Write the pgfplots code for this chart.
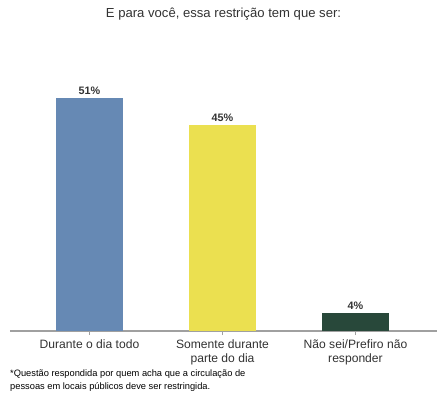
\documentclass[border=0pt]{standalone}
\usepackage{pgfplots}
\pgfplotsset{compat=1.18}
\usepackage{fontspec}
\setmainfont{Liberation Sans}
\definecolor{c1}{RGB}{102,137,180}
\definecolor{c2}{RGB}{235,224,80}
\definecolor{c3}{RGB}{40,72,58}
\definecolor{txt}{RGB}{50,50,50}
\definecolor{axc}{RGB}{160,160,160}
\begin{document}
\begin{tikzpicture}
\useasboundingbox (-10pt,-66pt) rectangle (432pt,331pt);
\begin{axis}[
  scale only axis, width=427pt, height=311pt,
  xmin=-0.598, xmax=2.613, ymin=0, ymax=68.05,
  axis y line=none, axis x line*=bottom,
  x axis line style={draw=axc, line width=1.2pt},
  xtick={0,1,2},
  xticklabels={Durante o dia todo,{Somente durante\\parte do dia},{Não sei/Prefiro não\\responder}},
  xtick align=outside, major tick length=4pt,
  xtick style={draw=axc, line width=0.8pt},
  xticklabel style={align=center, font=\fontsize{12.1}{14}\selectfont, text=txt, yshift=-1pt},
  clip=false,
  /pgf/number format/assume math mode=true,
  nodes near coords={\pgfmathprintnumber{\pgfplotspointmeta}\%},
  every node near coord/.append style={font=\bfseries\fontsize{10.8}{12}\selectfont, text=txt},
]
\addplot[ybar, bar width=67pt, bar shift=0pt, fill=c1, draw=none] coordinates {(0,51)};
\addplot[ybar, bar width=67pt, bar shift=0pt, fill=c2, draw=none] coordinates {(1,45)};
\addplot[ybar, bar width=67pt, bar shift=0pt, fill=c3, draw=none] coordinates {(2,4)};
\node[font=\fontsize{13.1}{15}\selectfont, text=txt] at (rel axis cs:0.5,1) [yshift=6pt] {E para você, essa restrição tem que ser:};
\node[font=\fontsize{9.3}{13}\selectfont, text=black, align=left, anchor=north west, inner sep=0pt] at (rel axis cs:0,0) [yshift=-39pt] {*Questão respondida por quem acha que a circulação de\\pessoas em locais públicos deve ser restringida.};
\end{axis}
\end{tikzpicture}
\end{document}
